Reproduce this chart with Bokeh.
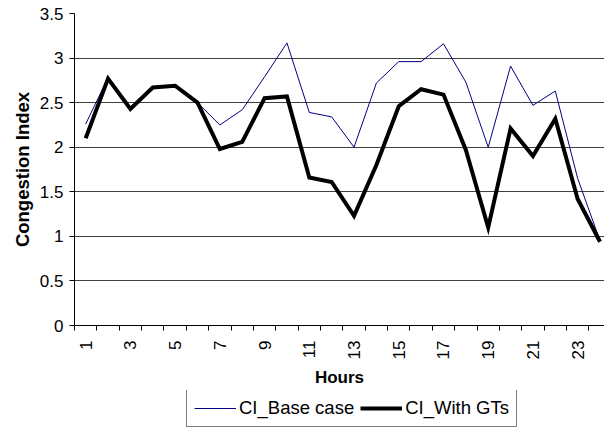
import math
from bokeh.plotting import figure
from bokeh.layouts import column
from bokeh.models import Range1d, FixedTicker, NumeralTickFormatter, Legend, LegendItem
from bokeh.embed import file_html
from bokeh.resources import INLINE

# ---- data ----
hours = list(range(1, 25))
ci_base_case = [2.26, 2.78, 2.43, 2.67, 2.69, 2.50, 2.25, 2.42, 2.79, 3.17, 2.39, 2.34,
                2.00, 2.72, 2.96, 2.96, 3.16, 2.73, 2.00, 2.91, 2.47, 2.63, 1.65, 0.95]
ci_with_gts = [2.10, 2.77, 2.43, 2.67, 2.69, 2.50, 1.98, 2.06, 2.55, 2.57, 1.66, 1.61,
               1.23, 1.80, 2.46, 2.65, 2.59, 1.97, 1.10, 2.21, 1.90, 2.32, 1.42, 0.94]
x_tick_labels = hours[::2]
y_ticks = [0, 0.5, 1, 1.5, 2, 2.5, 3, 3.5]
series_names = ["CI_Base case", "CI_With GTs"]
x_title = "Hours"
y_title = "Congestion Index"

FONT = "Liberation Sans"
BASE_COLOR = "#000080"
GT_COLOR = "black"

p = figure(frame_width=530, frame_height=312, output_backend="svg", toolbar_location=None,
           x_range=Range1d(0.5, 24.2), y_range=Range1d(0, 3.5),
           min_border_left=74, min_border_right=0, min_border_top=13, min_border_bottom=65)
p.outline_line_color = None
p.background_fill_color = "white"
p.border_fill_color = "white"

r1 = p.line(hours, ci_base_case, line_color=BASE_COLOR, line_width=1)
r2 = p.line(hours, ci_with_gts, line_color=GT_COLOR, line_width=4, line_join="miter")

# x axis
xax = p.xaxis[0]
xax.ticker = FixedTicker(ticks=x_tick_labels, minor_ticks=[h - 0.5 for h in hours] + [hours[-1] + 0.5])
xax.major_tick_line_color = None
xax.major_tick_out = 5
xax.major_tick_in = 0
xax.minor_tick_out = 5
xax.minor_tick_in = 0
xax.minor_tick_line_color = "black"
xax.axis_line_color = "black"
xax.major_label_orientation = math.pi / 2
xax.major_label_standoff = 10
xax.major_label_text_font = FONT
xax.major_label_text_font_size = "17px"
xax.major_label_text_color = "black"
xax.axis_label = x_title
xax.axis_label_text_font = FONT
xax.axis_label_text_font_size = "17px"
xax.axis_label_text_font_style = "bold"
xax.axis_label_text_color = "black"
xax.axis_label_standoff = 6

# y axis
yax = p.yaxis[0]
yt = FixedTicker(ticks=y_ticks, minor_ticks=[])
yax.ticker = yt
yax.formatter = NumeralTickFormatter(format="0.[0]")
yax.major_tick_out = 5
yax.major_tick_in = 0
yax.minor_tick_line_color = None
yax.major_tick_line_color = "black"
yax.axis_line_color = "black"
yax.major_label_standoff = 6
yax.major_label_text_font = FONT
yax.major_label_text_font_size = "17px"
yax.major_label_text_color = "black"
yax.axis_label = y_title
yax.axis_label_text_font = FONT
yax.axis_label_text_font_size = "18.5px"
yax.axis_label_text_font_style = "bold"
yax.axis_label_text_color = "black"
yax.axis_label_standoff = 4

p.xgrid.visible = False
p.ygrid.ticker = yt
p.ygrid.grid_line_color = "#404040"
p.ygrid.grid_line_width = 1

# ---- legend strip below the chart ----
p2 = figure(width=604, height=38, output_backend="svg", toolbar_location=None,
            x_range=p.x_range, y_range=p.y_range, x_axis_type=None, y_axis_type=None,
            min_border=0)
p2.outline_line_color = None
p2.background_fill_color = "white"
p2.border_fill_color = "white"
l1 = p2.line(hours, ci_base_case, line_color=BASE_COLOR, line_width=1, visible=False)
l2 = p2.line(hours, ci_with_gts, line_color=GT_COLOR, line_width=4, visible=False)

legend = Legend(items=[LegendItem(label=series_names[0], renderers=[l1]),
                       LegendItem(label=series_names[1], renderers=[l2])],
                orientation="horizontal", location=(112, 1), click_policy="none",
                label_text_font=FONT, label_text_font_size="18.5px", label_text_color="black",
                border_line_color="black", border_line_width=1, background_fill_color="white",
                background_fill_alpha=1, padding=7, spacing=6, glyph_width=42, glyph_height=20,
                label_height=20, label_standoff=3, margin=0)
p2.add_layout(legend)

open("out.html", "w").write(file_html(column(p, p2, spacing=0), INLINE))
